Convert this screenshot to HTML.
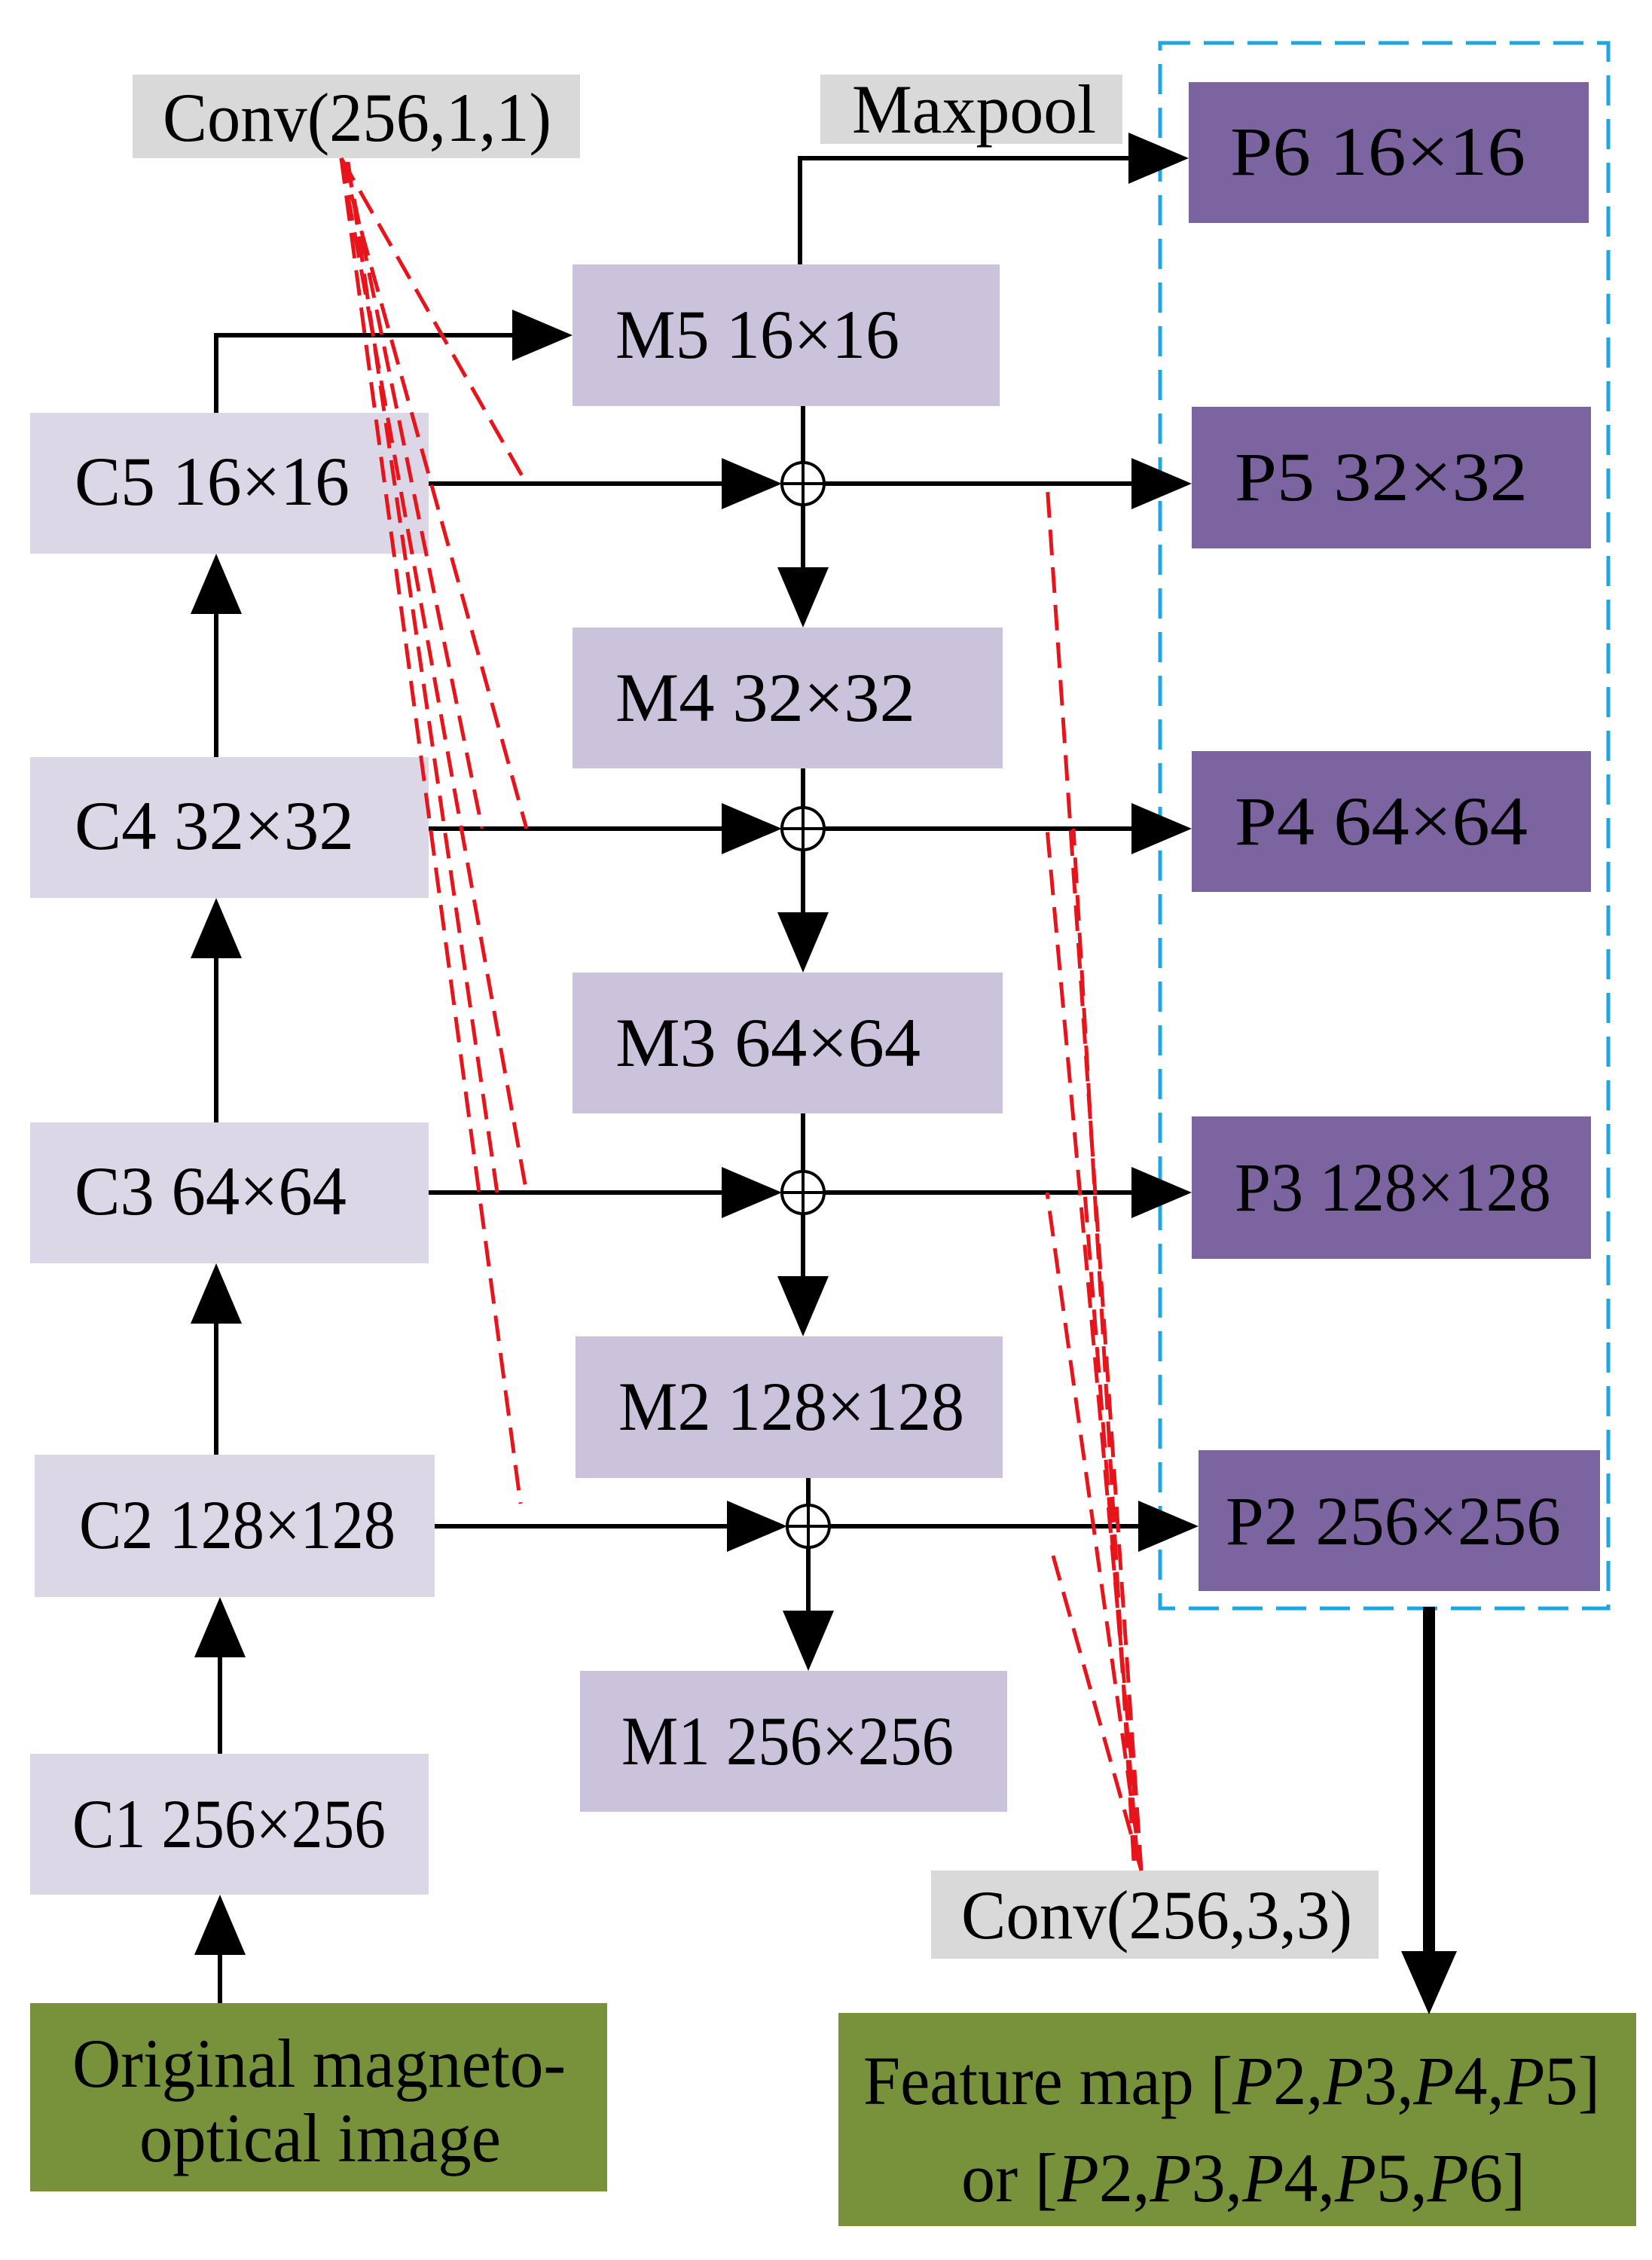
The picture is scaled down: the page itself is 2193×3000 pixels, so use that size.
<!DOCTYPE html>
<html><head><meta charset="utf-8"><style>
html,body{margin:0;padding:0;background:#fff;}
svg text{font-family:"Liberation Serif",serif;}
</style></head><body>
<svg width="2193" height="2995" viewBox="0 0 2193 2995" xmlns="http://www.w3.org/2000/svg">
<g font-size="92" fill="#000">
<rect x="176" y="99" width="594" height="111" fill="#d9d9d9"/>
<text x="216" y="187" textLength="516" lengthAdjust="spacingAndGlyphs">Conv(256,1,1)</text>
<rect x="1089" y="99" width="401" height="92" fill="#d9d9d9"/>
<text x="1131" y="176" textLength="324" lengthAdjust="spacingAndGlyphs">Maxpool</text>
<rect x="1236" y="2483" width="594" height="117" fill="#d9d9d9"/>
<text x="1276" y="2573" textLength="519" lengthAdjust="spacingAndGlyphs">Conv(256,3,3)</text>

<rect x="40" y="548" width="529" height="187" fill="#dcd7e7"/>
<text x="99" y="670" textLength="365" lengthAdjust="spacingAndGlyphs">C5  16×16</text>
<rect x="40" y="1005" width="529" height="187" fill="#dcd7e7"/>
<text x="99" y="1127" textLength="371" lengthAdjust="spacingAndGlyphs">C4  32×32</text>
<rect x="40" y="1490" width="529" height="187" fill="#dcd7e7"/>
<text x="99" y="1612" textLength="361" lengthAdjust="spacingAndGlyphs">C3  64×64</text>
<rect x="46" y="1931" width="531" height="189" fill="#dcd7e7"/>
<text x="105" y="2055" textLength="420" lengthAdjust="spacingAndGlyphs">C2 128×128</text>
<rect x="40" y="2328" width="529" height="187" fill="#dcd7e7"/>
<text x="96" y="2452" textLength="416" lengthAdjust="spacingAndGlyphs">C1 256×256</text>

<rect x="760" y="351" width="567" height="188" fill="#cbc3dc"/>
<text x="817" y="475" textLength="377" lengthAdjust="spacingAndGlyphs">M5  16×16</text>
<rect x="760" y="833" width="571" height="187" fill="#cbc3dc"/>
<text x="817" y="957" textLength="398" lengthAdjust="spacingAndGlyphs">M4  32×32</text>
<rect x="760" y="1291" width="571" height="187" fill="#cbc3dc"/>
<text x="817" y="1415" textLength="405" lengthAdjust="spacingAndGlyphs">M3  64×64</text>
<rect x="764" y="1774" width="567" height="188" fill="#cbc3dc"/>
<text x="821" y="1898" textLength="459" lengthAdjust="spacingAndGlyphs">M2  128×128</text>
<rect x="770" y="2218" width="567" height="187" fill="#cbc3dc"/>
<text x="825" y="2342" textLength="441" lengthAdjust="spacingAndGlyphs">M1 256×256</text>

<rect x="1578" y="109" width="531" height="187" fill="#7b64a0"/>
<text x="1633" y="232" textLength="392" lengthAdjust="spacingAndGlyphs">P6   16×16</text>
<rect x="1582" y="540" width="530" height="188" fill="#7b64a0"/>
<text x="1639" y="664" textLength="389" lengthAdjust="spacingAndGlyphs">P5   32×32</text>
<rect x="1582" y="997" width="530" height="187" fill="#7b64a0"/>
<text x="1639" y="1121" textLength="389" lengthAdjust="spacingAndGlyphs">P4   64×64</text>
<rect x="1582" y="1482" width="530" height="189" fill="#7b64a0"/>
<text x="1639" y="1607" textLength="420" lengthAdjust="spacingAndGlyphs">P3  128×128</text>
<rect x="1591" y="1925" width="533" height="187" fill="#7b64a0"/>
<text x="1627" y="2050" textLength="445" lengthAdjust="spacingAndGlyphs">P2  256×256</text>

<rect x="40" y="2659" width="766" height="250" fill="#77923b"/>
<text x="96" y="2770" textLength="655" lengthAdjust="spacingAndGlyphs">Original magneto-</text>
<text x="185" y="2869" textLength="480" lengthAdjust="spacingAndGlyphs">optical image</text>
<rect x="1113" y="2672" width="1059" height="283" fill="#77923b"/>
<text x="1146" y="2793" textLength="978" lengthAdjust="spacingAndGlyphs">Feature map [<tspan font-style="italic">P</tspan>2,<tspan font-style="italic">P</tspan>3,<tspan font-style="italic">P</tspan>4,<tspan font-style="italic">P</tspan>5]</text>
<text x="1276" y="2922" textLength="749" lengthAdjust="spacingAndGlyphs">or  [<tspan font-style="italic">P</tspan>2,<tspan font-style="italic">P</tspan>3,<tspan font-style="italic">P</tspan>4,<tspan font-style="italic">P</tspan>5,<tspan font-style="italic">P</tspan>6]</text>
</g>

<rect x="1540" y="57" width="595" height="2078" fill="none" stroke="#1ca7e0" stroke-width="5" stroke-dasharray="40,18"/>

<g stroke="#000" stroke-width="6" fill="none">
<polyline points="287,548 287,445 690,445"/>
<polyline points="1062,351 1062,210 1510,210"/>
<line x1="569" y1="642" x2="980" y2="642"/><line x1="1094" y1="642" x2="1515" y2="642"/>
<line x1="569" y1="1100" x2="980" y2="1100"/><line x1="1094" y1="1100" x2="1515" y2="1100"/>
<line x1="569" y1="1583" x2="980" y2="1583"/><line x1="1094" y1="1583" x2="1515" y2="1583"/>
<line x1="577" y1="2026" x2="987" y2="2026"/><line x1="1101" y1="2026" x2="1524" y2="2026"/>
<line x1="1066" y1="539" x2="1066" y2="614"/><line x1="1066" y1="670" x2="1066" y2="760"/>
<line x1="1066" y1="1020" x2="1066" y2="1072"/><line x1="1066" y1="1128" x2="1066" y2="1220"/>
<line x1="1066" y1="1478" x2="1066" y2="1555"/><line x1="1066" y1="1611" x2="1066" y2="1700"/>
<line x1="1073" y1="1962" x2="1073" y2="1998"/><line x1="1073" y1="2054" x2="1073" y2="2145"/>
<line x1="287" y1="1005" x2="287" y2="810"/>
<line x1="287" y1="1490" x2="287" y2="1265"/>
<line x1="287" y1="1931" x2="287" y2="1750"/>
<line x1="292" y1="2328" x2="292" y2="2195"/>
<line x1="292" y1="2659" x2="292" y2="2590"/>
<line x1="1897" y1="2133" x2="1897" y2="2600" stroke-width="16"/>
</g>
<g fill="#000">
<polygon points="760,445 680,411 680,479"/>
<polygon points="1578,210 1498,176 1498,244"/>
<polygon points="1038,642 958,608 958,676"/><polygon points="1582,642 1502,608 1502,676"/>
<polygon points="1038,1100 958,1066 958,1134"/><polygon points="1582,1100 1502,1066 1502,1134"/>
<polygon points="1038,1583 958,1549 958,1617"/><polygon points="1582,1583 1502,1549 1502,1617"/>
<polygon points="1045,2026 965,1992 965,2060"/><polygon points="1591,2026 1511,1992 1511,2060"/>
<polygon points="1066,833 1032,753 1100,753"/>
<polygon points="1066,1291 1032,1211 1100,1211"/>
<polygon points="1066,1774 1032,1694 1100,1694"/>
<polygon points="1073,2218 1039,2138 1107,2138"/>
<polygon points="287,735 253,815 321,815"/>
<polygon points="287,1192 253,1272 321,1272"/>
<polygon points="287,1677 253,1757 321,1757"/>
<polygon points="292,2120 258,2200 326,2200"/>
<polygon points="292,2515 258,2595 326,2595"/>
<polygon points="1897,2674 1860,2590 1934,2590"/>
</g>
<g stroke="#000" stroke-width="4" fill="#fff">
<circle cx="1066" cy="642" r="28"/><circle cx="1066" cy="1100" r="28"/>
<circle cx="1066" cy="1583" r="28"/><circle cx="1073" cy="2026" r="28"/>
</g>
<g stroke="#000" stroke-width="4">
<line x1="1040" y1="642" x2="1092" y2="642"/><line x1="1066" y1="616" x2="1066" y2="668"/>
<line x1="1040" y1="1100" x2="1092" y2="1100"/><line x1="1066" y1="1074" x2="1066" y2="1126"/>
<line x1="1040" y1="1583" x2="1092" y2="1583"/><line x1="1066" y1="1557" x2="1066" y2="1609"/>
<line x1="1047" y1="2026" x2="1099" y2="2026"/><line x1="1073" y1="2000" x2="1073" y2="2052"/>
</g>
<g stroke="#e8141c" stroke-width="5" stroke-dasharray="34,16" fill="none">
<line x1="453" y1="210" x2="699" y2="642"/>
<line x1="453" y1="210" x2="699" y2="1100"/>
<line x1="453" y1="210" x2="699" y2="1583"/>
<line x1="453" y1="210" x2="691" y2="1996"/>
<line x1="460" y1="215" x2="640" y2="1100"/>
<line x1="462" y1="215" x2="660" y2="1583"/>
<line x1="1515" y1="2483" x2="1390" y2="642"/>
<line x1="1515" y1="2483" x2="1390" y2="1100"/>
<line x1="1515" y1="2483" x2="1390" y2="1583"/>
<line x1="1515" y1="2483" x2="1394" y2="2051"/>
<line x1="1505" y1="2470" x2="1425" y2="1100"/>
<line x1="1510" y1="2470" x2="1440" y2="1583"/>
</g>
</svg>
</body></html>
